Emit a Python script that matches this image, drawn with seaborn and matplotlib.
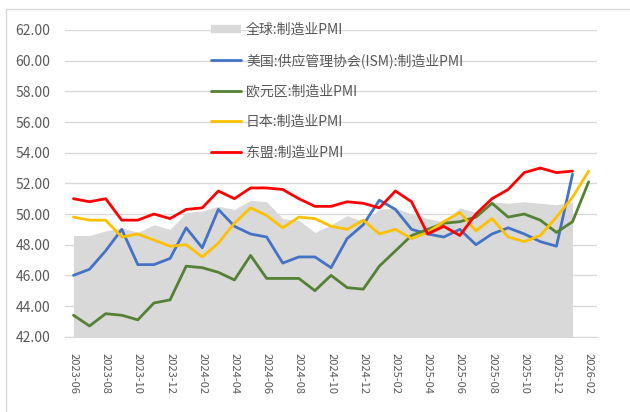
import pandas as pd
import matplotlib
matplotlib.use('Agg')
import matplotlib.pyplot as plt
from matplotlib.lines import Line2D
from matplotlib.patches import Rectangle
import seaborn as sns

# month labels, one per category
months = ['2023-06', '2023-07', '2023-08', '2023-09', '2023-10', '2023-11', '2023-12',
          '2024-01', '2024-02', '2024-03', '2024-04', '2024-05', '2024-06', '2024-07',
          '2024-08', '2024-09', '2024-10', '2024-11', '2024-12', '2025-01', '2025-02',
          '2025-03', '2025-04', '2025-05', '2025-06', '2025-07', '2025-08', '2025-09',
          '2025-10', '2025-11', '2025-12', '2026-01', '2026-02']

# series values
global_pmi = [48.6, 48.6, 48.9, 49.1, 48.8, 49.3, 49.0, 50.1, 50.2, 50.5, 50.3, 50.9,
              50.8, 49.7, 49.6, 48.8, 49.3, 49.9, 49.5, 50.3, 50.4, 50.0, 49.7, 49.5,
              50.4, 50.1, 50.8, 50.7, 50.8, 50.7, 50.6, 50.8]
us_pmi = [46.0, 46.4, 47.6, 49.0, 46.7, 46.7, 47.1, 49.1, 47.8, 50.3, 49.2, 48.7,
          48.5, 46.8, 47.2, 47.2, 46.5, 48.4, 49.3, 50.9, 50.3, 49.0, 48.7, 48.5,
          49.0, 48.0, 48.7, 49.1, 48.7, 48.2, 47.9, 52.6]
euro_pmi = [43.4, 42.7, 43.5, 43.4, 43.1, 44.2, 44.4, 46.6, 46.5, 46.2, 45.7, 47.3,
            45.8, 45.8, 45.8, 45.0, 46.0, 45.2, 45.1, 46.6, 47.6, 48.6, 49.0, 49.4,
            49.5, 49.8, 50.7, 49.8, 50.0, 49.6, 48.8, 49.5, 52.1]
japan_pmi = [49.8, 49.6, 49.6, 48.5, 48.7, 48.3, 47.9, 48.0, 47.2, 48.1, 49.4, 50.4,
             49.9, 49.1, 49.8, 49.7, 49.2, 49.0, 49.6, 48.7, 49.0, 48.4, 48.8, 49.5,
             50.1, 48.9, 49.7, 48.5, 48.2, 48.6, 49.8, 51.1, 52.8]
asean_pmi = [51.0, 50.8, 51.0, 49.6, 49.6, 50.0, 49.7, 50.3, 50.4, 51.5, 51.0, 51.7,
             51.7, 51.6, 51.0, 50.5, 50.5, 50.8, 50.7, 50.4, 51.5, 50.8, 48.7, 49.2,
             48.6, 50.0, 51.0, 51.6, 52.7, 53.0, 52.7, 52.8]

name_global = '全球:制造业PMI'
name_us = '美国:供应管理协会(ISM):制造业PMI'
name_euro = '欧元区:制造业PMI'
name_japan = '日本:制造业PMI'
name_asean = '东盟:制造业PMI'

colors = {name_us: '#4472C4', name_euro: '#548235', name_japan: '#FFC000', name_asean: '#FF0000'}
area_color = '#D9D9D9'
text_color = '#595959'

# long-form table for seaborn
frames = []
for name, vals in [(name_us, us_pmi), (name_euro, euro_pmi), (name_japan, japan_pmi), (name_asean, asean_pmi)]:
    frames.append(pd.DataFrame({'idx': range(len(vals)), 'value': vals, 'series': name}))
df = pd.concat(frames, ignore_index=True)

sns.set_style('white')
plt.rcParams['font.family'] = ['Noto Sans CJK SC', 'DejaVu Sans']

fig = plt.figure(figsize=(6.3, 4.12), dpi=100)
ax = fig.add_axes([65.4 / 630, 1 - 336.7 / 412, (596.7 - 65.4) / 630, (336.7 - 30) / 412])

# outer chart border
fig.patches.append(Rectangle((6 / 630, -0.05), 1.2, 1 - 9 / 412 + 0.05, transform=fig.transFigure,
                             fill=False, edgecolor='#D9D9D9', linewidth=1, zorder=0))

ax.fill_between(range(len(global_pmi)), 42, global_pmi, color=area_color, linewidth=0, zorder=1)
sns.lineplot(data=df, x='idx', y='value', hue='series', palette=colors, estimator=None,
             linewidth=2.0, legend=False, ax=ax, zorder=3)

ax.set_ylim(42, 62)
ax.set_xlim(-0.5, len(months) - 0.5)
ax.set_yticks([42 + 2 * i for i in range(11)])
ax.set_yticklabels([f'{42 + 2 * i:.2f}' for i in range(11)])
ax.yaxis.grid(True, color='#D9D9D9', linewidth=1, zorder=0)
ax.set_axisbelow(True)

ax.set_xticks(range(0, len(months), 2))
ax.set_xticklabels(months[::2], rotation=-90, fontsize=8, color=text_color)
ax.set_xticks([i - 0.5 for i in range(0, len(months) + 1, 2)], minor=True)
ax.tick_params(axis='x', which='major', length=0, pad=12)
ax.tick_params(axis='x', which='minor', length=5, color='#BFBFBF', width=1)
ax.tick_params(axis='y', length=0, pad=11, labelsize=10, labelcolor=text_color)
for lab in ax.get_xticklabels():
    lab.set_verticalalignment('top')

for side in ['left', 'right', 'top']:
    ax.spines[side].set_visible(False)
ax.spines['bottom'].set_color('#D9D9D9')
ax.set_xlabel('')
ax.set_ylabel('')

handles = [Line2D([], [], color=area_color, linewidth=6, solid_capstyle='butt')]
labels = [name_global]
for name in [name_us, name_euro, name_japan, name_asean]:
    handles.append(Line2D([], [], color=colors[name], linewidth=2.0))
    labels.append(name)
fig.legend(handles, labels, loc='upper left', bbox_to_anchor=(211 / 630, 1 - 23 / 412),
           bbox_transform=fig.transFigure, frameon=False, fontsize=10, labelcolor=text_color,
           handlelength=2.16, handletextpad=0.36, labelspacing=1.18, borderpad=0, borderaxespad=0)

plt.savefig('out.png', dpi=100)
